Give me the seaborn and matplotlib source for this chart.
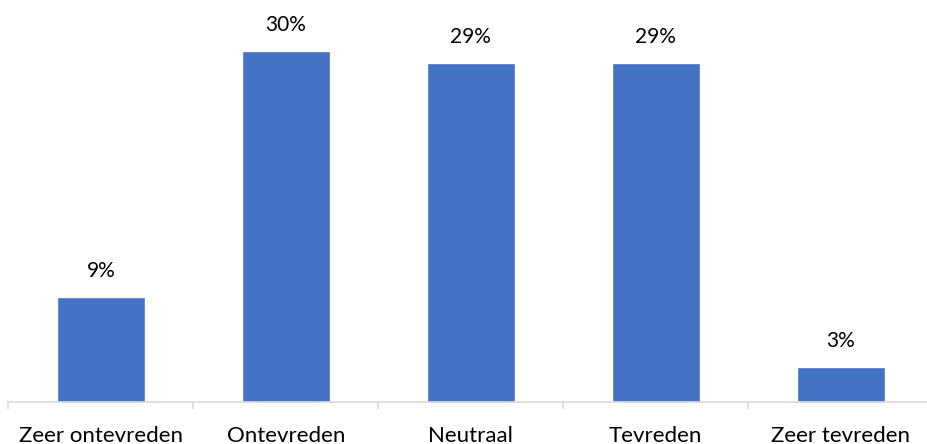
import matplotlib
matplotlib.use("Agg")
import matplotlib.pyplot as plt
import seaborn as sns
import pandas as pd
from matplotlib.ticker import FixedLocator

# Satisfaction survey: share of respondents per answer (percent)
categories = ["Zeer ontevreden", "Ontevreden", "Neutraal", "Tevreden", "Zeer tevreden"]
values = [9, 30, 29, 29, 3]
value_labels = ["9%", "30%", "29%", "29%", "3%"]

sns.set_theme(style="white")
plt.rcParams["font.family"] = ["Lato", "DejaVu Sans"]

W, H = 927, 444
fig = plt.figure(figsize=(W / 100, H / 100), dpi=100)
# axes spans from just inside the left edge; the right end runs past the canvas
left_px, base_px = 8.3, 402.0
ax = fig.add_axes([left_px / W, (H - base_px) / H, 925 / W, base_px / H])

df = pd.DataFrame({"categorie": categories, "aandeel": values})
sns.barplot(data=df, x="categorie", y="aandeel", color="#4472C4",
            saturation=1, width=0.476, ax=ax)

ax.set_xlim(-0.5, len(categories) - 0.5)
ax.set_ylim(0, 34.4)

for i, (v, lab) in enumerate(zip(values, value_labels)):
    ax.annotate(lab, (i, v), xytext=(0, 14.4), textcoords="offset points",
                ha="center", va="baseline", fontsize=15, color="#000000")

# category axis: gray baseline with ticks between categories
for s in ["top", "right", "left"]:
    ax.spines[s].set_visible(False)
ax.spines["bottom"].set_color("#d9d9d9")
ax.spines["bottom"].set_linewidth(1.2)
ax.set_yticks([])
ax.set_xlabel("")
ax.set_ylabel("")
ax.xaxis.set_minor_locator(FixedLocator([i - 0.5 for i in range(len(categories) + 1)]))
ax.tick_params(axis="x", which="minor", length=5, width=1.2, color="#d9d9d9",
               direction="out", bottom=True)
ax.tick_params(axis="x", which="major", length=0, pad=28.5, labelsize=16,
               labelcolor="#000000", bottom=True)
for t in ax.get_xticklabels():
    t.set_va("baseline")

fig.savefig("out.png", dpi=100)
